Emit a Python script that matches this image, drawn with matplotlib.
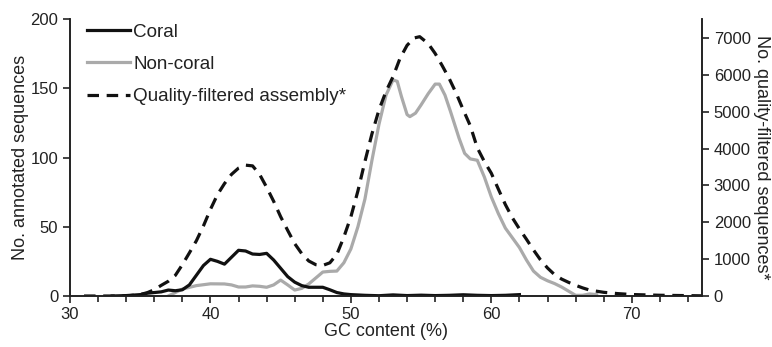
import matplotlib
matplotlib.use("Agg")
import matplotlib.pyplot as plt
from matplotlib.ticker import MultipleLocator

plt.rcParams['font.family'] = ['Liberation Sans', 'DejaVu Sans']

coral_x = [33, 34, 35, 35.5, 36.5, 37, 37.5, 38, 38.5, 39, 39.5, 40, 40.5, 41, 41.5, 42, 42.5, 43, 43.5, 44,
           44.5, 45, 45.5, 46, 46.5, 47, 47.5, 48, 48.5, 49, 49.5, 50, 51, 52, 53, 54, 55, 56, 57, 58, 59, 60, 61, 62]
coral_y = [0, 0.3, 1, 2, 3, 4.3, 3.8, 4.5, 8, 15, 22, 26.5, 25, 23, 28, 33, 32.5, 30.3, 30, 30.8,
           26, 20, 14, 10, 7.5, 6.3, 6.3, 6.3, 4.5, 2.5, 1.5, 1, 0.5, 0.2, 0.8, 0.3, 0.6, 0.3, 0.5, 0.9, 0.5, 0.3, 0.5, 1]

noncoral_x = [37, 37.5, 38, 39, 40, 41, 41.5, 42, 42.5, 43, 43.5, 44, 44.5, 45, 45.5, 46, 46.5, 47, 47.5, 48,
              48.5, 49, 49.5, 50, 50.5, 51, 51.5, 52, 52.5, 53, 53.3, 53.6, 54, 54.2, 54.6, 55, 55.5, 56, 56.3,
              56.7, 57.1, 57.7, 58.1, 58.5, 59, 59.5, 60, 60.5, 61, 61.5, 62, 62.5, 63, 63.5, 64, 64.5, 65, 65.5, 66,
              66.5, 67, 67.5]
noncoral_y = [0, 2.5, 5, 7.5, 8.8, 8.7, 8, 6.5, 6.5, 7.3, 7, 6.3, 8, 11.5, 8, 4.3, 5.5, 8.7, 13, 17.3,
              17.8, 18, 24, 34, 50, 70, 98, 124, 145, 156, 155, 144, 131, 129.5, 132, 138, 146, 153, 153,
              145, 133, 114, 103, 99, 98, 86, 71.5, 59.5, 49, 42, 35, 26, 18, 13.5, 11, 9, 6.5, 3.5, 0.5,
              0.5, 1.5, 1]

qf_x = [31, 34, 35, 35.5, 36, 36.5, 37, 37.5, 38, 38.5, 39, 39.5, 40, 40.5, 41, 41.5, 42, 42.5, 43, 43.5,
        44, 44.5, 45, 45.5, 46, 46.5, 47, 47.5, 48, 48.5, 49, 49.5, 50, 50.5, 51, 51.5, 52, 52.5, 53, 53.5,
        54, 54.5, 54.9, 55.5, 56, 56.5, 57, 57.5, 58, 58.5, 59, 59.5, 60, 60.5, 61, 61.5, 62, 62.5, 63, 63.5,
        64, 64.5, 65, 65.5, 66, 66.5, 67, 68, 69, 70, 72, 74, 75]
qf_y = [0, 0, 40, 90, 170, 290, 400, 560, 850, 1170, 1500, 1900, 2350, 2750, 3050, 3300, 3470, 3550, 3530, 3300,
        2950, 2570, 2150, 1780, 1420, 1150, 950, 850, 830, 900, 1130, 1600, 2150, 2850, 3650, 4400, 5050, 5550, 5950, 6450,
        6800, 7000, 7035, 6850, 6580, 6250, 5900, 5500, 5050, 4620, 4020, 3650, 3330, 2900, 2480, 2120, 1820, 1540, 1250, 980,
        760, 580, 460, 370, 290, 220, 160, 100, 65, 40, 20, 10, 5]

fig = plt.figure(figsize=(7.72, 3.47), dpi=100)
ax = fig.add_axes([70/772, 51/347, 632/772, 277/347])
ax2 = ax.twinx()

lw = 2.3
ax.plot(coral_x, coral_y, color='#111111', lw=lw, label='Coral', zorder=3)
ax.plot(noncoral_x, noncoral_y, color='#aaaaaa', lw=lw, label='Non-coral', zorder=2)
l3, = ax2.plot(qf_x, qf_y, color='#111111', lw=lw, dashes=(3.6, 2.4), label='Quality-filtered assembly*')

ax.set_xlim(30, 75)
ax.set_ylim(0, 200)
ax2.set_ylim(0, 7515)

ax.set_xticks([30, 40, 50, 60, 70])
ax.xaxis.set_minor_locator(MultipleLocator(2))
ax.set_yticks([0, 50, 100, 150, 200])
ax2.set_yticks(range(0, 7001, 1000))

for a in (ax, ax2):
    a.spines['top'].set_visible(False)
    for s in a.spines.values():
        s.set_linewidth(1.2)
        s.set_color('#222222')
    a.tick_params(which='both', direction='out', width=1.2, color='#222222', labelsize=12, labelcolor='#222222')
    a.tick_params(which='major', length=5)
    a.tick_params(which='minor', length=4)
ax.tick_params(axis='x', pad=3)

ax.set_xlabel('GC content (%)', fontsize=13, color='#222222', labelpad=1)
ax.set_ylabel('No. annotated sequences', fontsize=13, color='#222222', labelpad=1)
ax2.set_ylabel('No. quality-filtered sequences*', fontsize=13, color='#222222', rotation=270, labelpad=14)

h1, lb1 = ax.get_legend_handles_labels()
leg = ax.legend(h1 + [l3], lb1 + [l3.get_label()], loc='upper left', bbox_to_anchor=(0.0, 1.045),
                frameon=False, fontsize=13.6, handlelength=2.25, handletextpad=0.2, labelspacing=0.8,
                labelcolor='#222222')

fig.savefig('out.png', dpi=100)
